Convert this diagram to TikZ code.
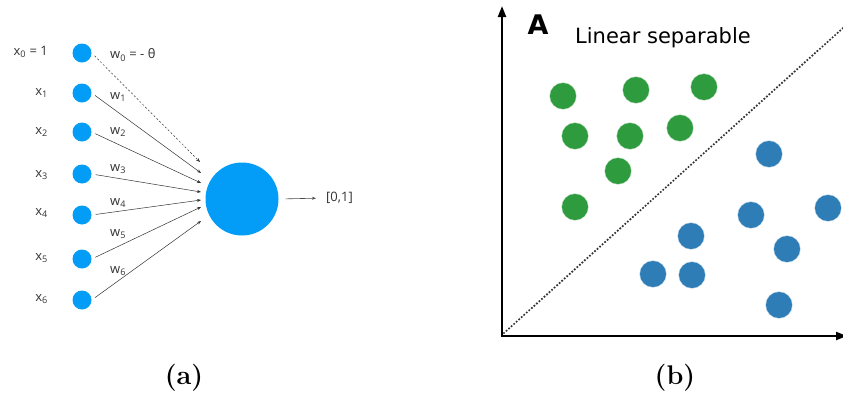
\documentclass[tikz,border=0pt]{standalone}
\usepackage{fontspec}
\newfontfamily\inputfont{Open Sans}
\newfontfamily\plotfont{DejaVu Sans}
\usetikzlibrary{arrows.meta}

\definecolor{unitblue}{RGB}{3,156,246}
\definecolor{dotgreen}{RGB}{46,155,62}
\definecolor{dotblue}{RGB}{47,125,182}

\begin{document}
\begin{tikzpicture}[x=1pt, y=-1pt, >={Stealth[length=4pt,width=3pt]},
    unit/.style={circle, fill=unitblue, minimum size=19pt, inner sep=0pt},
    lbl/.style={font=\inputfont\fontsize{13}{15}\selectfont, text=black!80, inner sep=0pt},
    wire/.style={->, line width=0.5pt, draw=black!80, shorten <=4pt},
    dot/.style={circle, minimum size=26pt, inner sep=0pt, draw opacity=0.35, line width=1.2pt},
    axis/.style={line width=2.2pt, {Stealth[length=11pt,width=8pt,inset=0pt]}-{Stealth[length=11pt,width=8pt,inset=0pt]}},
    caption/.style={font=\bfseries\fontsize{27}{30}\selectfont, inner sep=0pt}]
    \useasboundingbox (0,0) rectangle (843,394);

    % perceptron: inputs, weights and the output unit
    \node[unit] (in0) at (82,53) {};
    \node[unit] (in1) at (82,93) {};
    \node[unit] (in2) at (82,132) {};
    \node[unit] (in3) at (82,174) {};
    \node[unit] (in4) at (82,215) {};
    \node[unit] (in5) at (82,259) {};
    \node[unit] (in6) at (82,300) {};

    \node[lbl, anchor=east] (x0) at (48,52) {x\textsubscript{0} = 1};
    \node[lbl, anchor=east] (x1) at (48,93) {x\textsubscript{1}};
    \node[lbl, anchor=east] (x2) at (48,132) {x\textsubscript{2}};
    \node[lbl, anchor=east] (x3) at (48,175) {x\textsubscript{3}};
    \node[lbl, anchor=east] (x4) at (48,213) {x\textsubscript{4}};
    \node[lbl, anchor=east] (x5) at (48,258) {x\textsubscript{5}};
    \node[lbl, anchor=east] (x6) at (48,299) {x\textsubscript{6}};

    \node[lbl, anchor=west] (w0) at (110,55) {w\textsubscript{0} = - θ};
    \node[lbl, anchor=west] (w1) at (110,97) {w\textsubscript{1}};
    \node[lbl, anchor=west] (w2) at (110,132) {w\textsubscript{2}};
    \node[lbl, anchor=west] (w3) at (110,169) {w\textsubscript{3}};
    \node[lbl, anchor=west] (w4) at (110,203) {w\textsubscript{4}};
    \node[lbl, anchor=west] (w5) at (110,234) {w\textsubscript{5}};
    \node[lbl, anchor=west] (w6) at (110,271) {w\textsubscript{6}};

    \node[unit, minimum size=73pt] (neuron) at (242,199) {};
    \node[lbl, anchor=west] (out) at (326,198) {[0,1]};

    \coordinate (t0) at (200,162);
    \coordinate (t1) at (201,173);
    \coordinate (t2) at (201,183);
    \coordinate (t3) at (201,192);
    \coordinate (t4) at (201,200);
    \coordinate (t5) at (201,207);
    \coordinate (t6) at (201,221);

    \draw[wire, dash pattern=on 2pt off 2pt] (in0.east) -- (t0);
    \draw[wire] (in1.east) -- (t1);
    \draw[wire] (in2.east) -- (t2);
    \draw[wire] (in3.east) -- (t3);
    \draw[wire] (in4.east) -- (t4);
    \draw[wire] (in5.east) -- (t5);
    \draw[wire] (in6.east) -- (t6);
    \draw[->, line width=0.6pt, draw=black!70, shorten <=7pt, shorten >=10pt] (neuron.east) -- (out.west);

    % scatter with a separating line
    \coordinate (ytop) at (502,6);
    \coordinate (origin) at (502,336);
    \coordinate (xend) at (847,336);
    \draw[axis] (ytop) -- (origin) -- (xend);

    \node[font=\plotfont\bfseries\fontsize{27}{30}\selectfont, inner sep=0pt] (panel) at (538,25) {A};
    \node[font=\plotfont\fontsize{21}{24}\selectfont, inner sep=0pt, anchor=base west] (title) at (575,43) {Linear separable};

    \coordinate (s0) at (504,333);
    \coordinate (s1) at (843,28);
    \draw[line width=2.4pt, black!80, line cap=round, dash pattern=on 0pt off 3.4pt] (s0) -- (s1);

    \node[dot, fill=dotgreen, draw=dotgreen] (g1) at (563,96) {};
    \node[dot, fill=dotgreen, draw=dotgreen] (g2) at (636,90) {};
    \node[dot, fill=dotgreen, draw=dotgreen] (g3) at (704,87) {};
    \node[dot, fill=dotgreen, draw=dotgreen] (g4) at (575,136) {};
    \node[dot, fill=dotgreen, draw=dotgreen] (g5) at (630,136) {};
    \node[dot, fill=dotgreen, draw=dotgreen] (g6) at (680,128) {};
    \node[dot, fill=dotgreen, draw=dotgreen] (g7) at (618,171) {};
    \node[dot, fill=dotgreen, draw=dotgreen] (g8) at (575,207) {};

    \node[dot, fill=dotblue, draw=dotblue] (b1) at (769,154) {};
    \node[dot, fill=dotblue, draw=dotblue] (b2) at (751,215) {};
    \node[dot, fill=dotblue, draw=dotblue] (b3) at (828,208) {};
    \node[dot, fill=dotblue, draw=dotblue] (b4) at (691,236) {};
    \node[dot, fill=dotblue, draw=dotblue] (b5) at (787,249) {};
    \node[dot, fill=dotblue, draw=dotblue] (b6) at (653,274) {};
    \node[dot, fill=dotblue, draw=dotblue] (b7) at (692,275) {};
    \node[dot, fill=dotblue, draw=dotblue] (b8) at (779,305) {};

    % sub-captions
    \node[caption] (capa) at (184,378) {(a)};
    \node[caption] (capb) at (675,378) {(b)};
\end{tikzpicture}
\end{document}
